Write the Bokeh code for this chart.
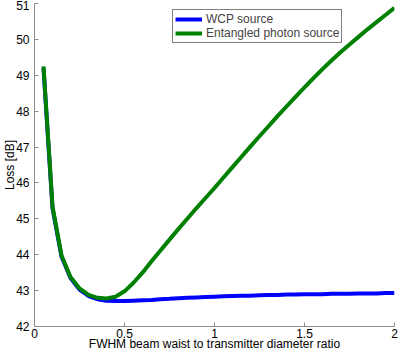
from bokeh.plotting import figure
from bokeh.models import Legend, LegendItem, FixedTicker, Range1d
from bokeh.embed import file_html
from bokeh.resources import INLINE

# Data
ratio = [0.05, 0.10, 0.15, 0.20, 0.25, 0.30, 0.35, 0.40, 0.45, 0.50,
         0.55, 0.60, 0.65, 0.70, 0.75, 0.80, 0.85, 0.90, 0.95, 1.00,
         1.05, 1.10, 1.15, 1.20, 1.25, 1.30, 1.35, 1.40, 1.45, 1.50,
         1.55, 1.60, 1.65, 1.70, 1.75, 1.80, 1.85, 1.90, 1.95, 2.00]

wcp_loss = [49.20, 45.30, 43.95, 43.35, 43.03, 42.85, 42.76, 42.72, 42.71, 42.71,
            42.72, 42.73, 42.74, 42.76, 42.77, 42.79, 42.80, 42.81, 42.82, 42.83,
            42.84, 42.85, 42.86, 42.86, 42.87, 42.88, 42.88, 42.89, 42.89, 42.90,
            42.90, 42.90, 42.91, 42.91, 42.91, 42.92, 42.92, 42.92, 42.93, 42.93]

entangled_loss = [49.25, 45.35, 43.98, 43.38, 43.06, 42.88, 42.80, 42.78, 42.83, 42.98,
                  43.22, 43.50, 43.82, 44.12, 44.42, 44.72, 45.01, 45.30, 45.58, 45.86,
                  46.15, 46.44, 46.73, 47.02, 47.30, 47.58, 47.86, 48.13, 48.40, 48.66,
                  48.92, 49.17, 49.41, 49.64, 49.86, 50.07, 50.28, 50.48, 50.68, 50.88]

x_ticks = [0, 0.5, 1, 1.5, 2]
x_tick_labels = ["0", "0.5", "1", "1.5", "2"]
y_ticks = [42, 43, 44, 45, 46, 47, 48, 49, 50, 51]

series_names = ["WCP source", "Entangled photon source"]
series_colors = ["#0000ff", "#008000"]

FONT = "Liberation Sans"

p = figure(width=399, height=353, output_backend="svg", toolbar_location=None,
           x_range=Range1d(0, 2), y_range=Range1d(42, 51),
           min_border_top=3, min_border_right=5, min_border_left=0, min_border_bottom=0)

p.outline_line_color = None
p.xgrid.visible = False
p.ygrid.visible = False
p.background_fill_color = "white"
p.border_fill_color = "white"

r1 = p.line(ratio, wcp_loss, line_color=series_colors[0], line_width=4)
r2 = p.line(ratio, entangled_loss, line_color=series_colors[1], line_width=4)

for ax in (p.xaxis[0], p.yaxis[0]):
    ax.axis_line_color = "#8c8c8c"
    ax.major_tick_line_color = "#8c8c8c"
    ax.major_tick_in = 4
    ax.major_tick_out = 0
    ax.minor_tick_line_color = None
    ax.major_label_text_font = FONT
    ax.major_label_text_font_size = "12px"
    ax.major_label_text_color = "black"
    ax.axis_label_text_font = FONT
    ax.axis_label_text_font_size = "12px"
    ax.axis_label_text_font_style = "normal"
    ax.axis_label_text_color = "black"

p.xaxis.ticker = FixedTicker(ticks=x_ticks)
p.xaxis.major_label_overrides = {t: l for t, l in zip(x_ticks, x_tick_labels)}
p.xaxis.axis_label = "FWHM beam waist to transmitter diameter ratio"
p.xaxis.major_label_standoff = 2
p.xaxis.axis_label_standoff = -4

p.yaxis.ticker = FixedTicker(ticks=y_ticks)
p.yaxis.axis_label = "Loss [dB]"
p.yaxis.major_label_standoff = 5
p.yaxis.axis_label_standoff = -4

legend = Legend(items=[LegendItem(label=series_names[0], renderers=[r1]),
                       LegendItem(label=series_names[1], renderers=[r2])],
                location=(138, 283))
legend.label_text_font = FONT
legend.label_text_font_size = "12px"
legend.label_height = 14
legend.glyph_height = 14
legend.glyph_width = 27
legend.label_standoff = 4
legend.spacing = 0
legend.padding = 2
legend.margin = 0
legend.border_line_color = "black"
legend.border_line_width = 1
legend.background_fill_color = "white"
legend.background_fill_alpha = 1
p.add_layout(legend)

open("out.html", "w").write(file_html(p, INLINE))
